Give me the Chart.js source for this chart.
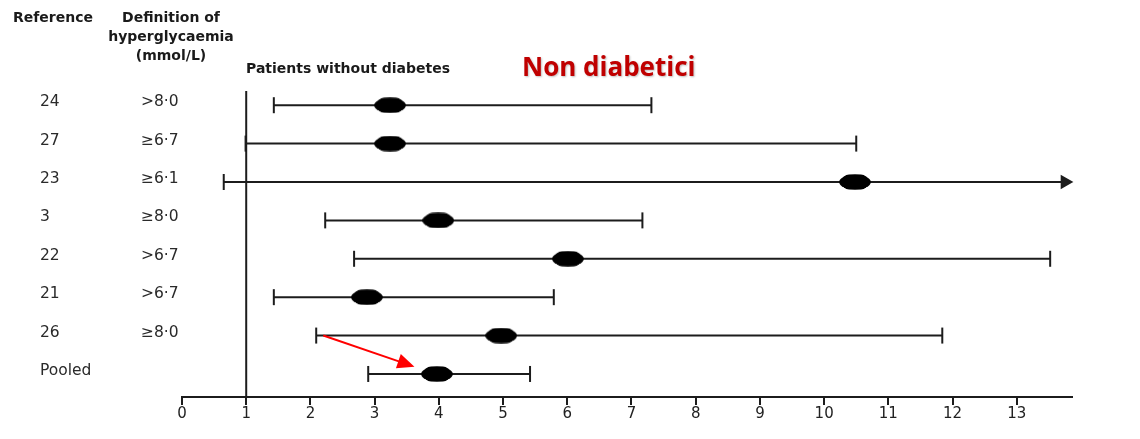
<!DOCTYPE html>
<html>
<head>
<meta charset="utf-8">
<title>Patients without diabetes – forest plot</title>
<script src="https://cdn.jsdelivr.net/npm/chart.js@4.4.1/dist/chart.umd.min.js"></script>
<style>
  html, body { margin: 0; padding: 0; background: #ffffff; }
  #wrap { position: relative; width: 1140px; height: 439px; }
</style>
</head>
<body>
<div id="wrap"><canvas id="forest"></canvas></div>
<script>
// Study rows, top to bottom
const references  = ['24', '27', '23', '3', '22', '21', '26', 'Pooled'];
const definitions = ['>8·0', '≥6·7', '≥6·1', '≥8·0', '>6·7', '>6·7', '≥8·0', ''];

// Relative risk estimates with 95% confidence limits
const estimates = [3.24, 3.24, 10.48, 3.99, 6.01, 2.88, 4.97, 3.97];
const lowerCI   = [1.43, 0.99, 0.65, 2.23, 2.68, 1.43, 2.09, 2.90];
const upperCI   = [7.31, 10.50, 13.75, 7.17, 13.52, 5.79, 11.84, 5.42];
// Upper limit runs past the end of the axis (drawn as an arrow)
const truncated = [false, false, true, false, false, false, false, false];

// Axis
const xTicks = [0, 1, 2, 3, 4, 5, 6, 7, 8, 9, 10, 11, 12, 13];
const xMin = 0;
const xMax = 13.86;
const yMin = -0.37;
const yMax = 7.6;
const nullValue = 1;

// Highlight arrow (from study 26 towards the pooled estimate)
const arrowFrom = [2.2, 6];
const arrowTo   = [3.62, 6.81];

const INK = '#1c1c1c';

// Black oval used for point estimates
function makeOval() {
  const c = document.createElement('canvas');
  c.width = 32; c.height = 16;
  const g = c.getContext('2d');
  g.fillStyle = '#000';
  g.beginPath();
  g.ellipse(16, 8, 15.8, 7.6, 0, 0, Math.PI * 2);
  g.fill();
  g.beginPath();
  g.roundRect(3, 0.5, 26, 15, 7);
  g.fill();
  return c;
}
const oval = makeOval();

const datasets = [];

// Vertical line of no effect
datasets.push({
  type: 'line',
  data: [{ x: nullValue, y: yMin }, { x: nullValue, y: yMax }],
  borderColor: INK, borderWidth: 2, pointRadius: 0, clip: false, order: 3
});

// Confidence interval whiskers
references.forEach((r, i) => {
  datasets.push({
    type: 'line',
    data: [{ x: lowerCI[i], y: i }, { x: upperCI[i], y: i }],
    borderColor: INK,
    borderWidth: 2,
    pointStyle: ['line', truncated[i] ? 'triangle' : 'line'],
    pointRotation: 90,
    pointRadius: [8, truncated[i] ? 6.5 : 8],
    pointBorderColor: INK,
    pointBackgroundColor: INK,
    pointBorderWidth: 2,
    clip: false,
    order: 2
  });
});

// Point estimates
datasets.push({
  type: 'scatter',
  data: estimates.map((v, i) => ({ x: v, y: i })),
  pointStyle: oval,
  pointRadius: 10,
  clip: false,
  order: 1
});

// Row labels, column headers, panel titles and the red arrow
const annotations = {
  id: 'annotations',
  afterDatasetsDraw(chart) {
    const { ctx, scales: { x, y } } = chart;
    ctx.save();

    // arrow
    const x0 = x.getPixelForValue(arrowFrom[0]), y0 = y.getPixelForValue(arrowFrom[1]);
    const x1 = x.getPixelForValue(arrowTo[0]),   y1 = y.getPixelForValue(arrowTo[1]);
    const ang = Math.atan2(y1 - y0, x1 - x0);
    const head = 17, half = 7.5;
    const bx = x1 - head * Math.cos(ang), by = y1 - head * Math.sin(ang);
    ctx.strokeStyle = '#ff0000';
    ctx.fillStyle = '#ff0000';
    ctx.lineWidth = 2;
    ctx.beginPath(); ctx.moveTo(x0, y0); ctx.lineTo(bx + 2 * Math.cos(ang), by + 2 * Math.sin(ang)); ctx.stroke();
    ctx.beginPath();
    ctx.moveTo(x1, y1);
    ctx.lineTo(bx + half * Math.sin(ang), by - half * Math.cos(ang));
    ctx.lineTo(bx - half * Math.sin(ang), by + half * Math.cos(ang));
    ctx.closePath(); ctx.fill();

    // row labels
    ctx.fillStyle = '#2a2a2a';
    ctx.font = '15.5px "DejaVu Sans"';
    ctx.textBaseline = 'middle';
    ctx.textAlign = 'left';
    references.forEach((r, i) => {
      const py = y.getPixelForValue(i) - 3;
      ctx.fillText(r, 40, py);
      if (definitions[i]) ctx.fillText(definitions[i], 141, py);
    });

    // column headers
    ctx.fillStyle = '#1a1a1a';
    ctx.font = 'bold 14px "DejaVu Sans"';
    ctx.textBaseline = 'alphabetic';
    ctx.textAlign = 'center';
    ctx.fillText('Reference', 53, 22);
    ctx.fillText('Definition of', 171, 22);
    ctx.fillText('hyperglycaemia', 171, 41);
    ctx.fillText('(mmol/L)', 171, 60);
    ctx.textAlign = 'left';
    ctx.fillText('Patients without diabetes', 246, 73);

    // panel title
    ctx.font = 'bold 26px "Open Sans"';
    ctx.fillStyle = '#c00000';
    ctx.shadowColor = 'rgba(0,0,0,0.25)';
    ctx.shadowBlur = 2;
    ctx.shadowOffsetX = 1;
    ctx.shadowOffsetY = 1;
    ctx.fillText('Non diabetici', 522, 76);
    ctx.restore();
  }
};

new Chart(document.getElementById('forest'), {
  type: 'line',
  data: { datasets },
  options: {
    responsive: true,
    maintainAspectRatio: false,
    animation: false,
    events: [],
    layout: { padding: { left: 182, right: 68, top: 91, bottom: 16 } },
    plugins: { legend: { display: false }, tooltip: { enabled: false } },
    scales: {
      x: {
        type: 'linear',
        min: xMin,
        max: xMax,
        afterBuildTicks(axis) { axis.ticks = xTicks.map(v => ({ value: v })); },
        border: { display: true, color: INK, width: 2 },
        grid: { drawOnChartArea: false, drawTicks: true, tickLength: 8, color: INK, lineWidth: 2 },
        ticks: {
          color: '#222',
          font: { family: 'DejaVu Sans', size: 15 },
          padding: 0,
          maxRotation: 0,
          autoSkip: false
        }
      },
      y: {
        type: 'linear',
        reverse: true,
        min: yMin,
        max: yMax,
        display: false
      }
    }
  },
  plugins: [annotations]
});
</script>
</body>
</html>
